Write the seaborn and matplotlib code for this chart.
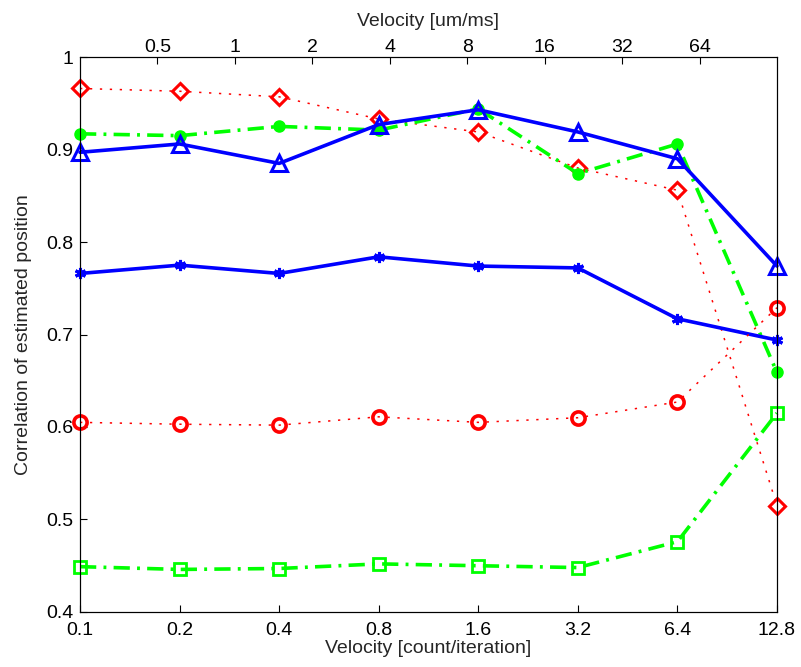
import matplotlib
matplotlib.use("Agg")
import matplotlib.pyplot as plt
import seaborn as sns
import pandas as pd

# ---- data ----
velocity_count = [0.1, 0.2, 0.4, 0.8, 1.6, 3.2, 6.4, 12.8]
top_ticks = [0.5, 1, 2, 4, 8, 16, 32, 64]
top_tick_labels = ["0.5", "1", "2", "4", "8", "16", "32", "64"]
bottom_tick_labels = ["0.1", "0.2", "0.4", "0.8", "1.6", "3.2", "6.4", "12.8"]
y_ticks = [0.4, 0.5, 0.6, 0.7, 0.8, 0.9, 1.0]
y_tick_labels = ["0.4", "0.5", "0.6", "0.7", "0.8", "0.9", "1"]

red_diamond = [0.966, 0.963, 0.957, 0.933, 0.919, 0.880, 0.856, 0.515]
green_circle = [0.917, 0.915, 0.925, 0.921, 0.944, 0.874, 0.906, 0.659]
blue_triangle = [0.897, 0.906, 0.885, 0.927, 0.943, 0.919, 0.890, 0.774]
blue_star = [0.766, 0.775, 0.766, 0.784, 0.774, 0.772, 0.717, 0.694]
red_circle = [0.605, 0.603, 0.602, 0.611, 0.605, 0.610, 0.627, 0.729]
green_square = [0.449, 0.446, 0.447, 0.452, 0.450, 0.448, 0.476, 0.615]

RED = (1.0, 0.0, 0.0)
GREEN = (0.0, 1.0, 0.0)
BLUE = (0.0, 0.0, 1.0)

sns.set_style("white")
plt.rcParams["font.family"] = ["Liberation Sans", "DejaVu Sans"]

FS = 14

fig = plt.figure(figsize=(8.01, 6.67), dpi=100)
ax = fig.add_axes([0.0999, 0.0825, 0.8701, 0.832])

dotted = (0, (1.5, 5.0))
dashdot = (0, (4.5, 2.0, 0.8, 2.0))

series = [
    (red_diamond, RED, dotted, 1.1, "D", 8.5, 2.2, "none"),
    (green_circle, GREEN, dashdot, 2.6, "o", 8, 1.0, GREEN),
    (blue_triangle, BLUE, "-", 2.6, "^", 12, 2.2, "none"),
    (blue_star, BLUE, "-", 2.6, (6, 2, 0), 8, 2.2, BLUE),
    (red_circle, RED, dotted, 1.1, "o", 9.5, 2.6, "none"),
    (green_square, GREEN, dashdot, 2.6, "s", 8.5, 2.0, "none"),
]

for vals, col, ls, lw, mk, ms, mew, mfc in series:
    df = pd.DataFrame({"v": velocity_count, "c": vals})
    sns.lineplot(data=df, x="v", y="c", ax=ax, color=col, linestyle=ls,
                 linewidth=lw, marker=mk, markersize=ms, markeredgewidth=mew,
                 markerfacecolor=mfc, markeredgecolor=col, clip_on=False,
                 zorder=3)

ax.set_xscale("log", base=2)
ax.set_xlim(0.1, 12.8)
ax.set_ylim(0.4, 1.0)
ax.set_xticks(velocity_count)
ax.set_xticklabels(bottom_tick_labels)
ax.minorticks_off()
ax.set_yticks(y_ticks)
ax.set_yticklabels(y_tick_labels)
ax.tick_params(axis="both", direction="in", length=5, width=0.8,
               labelsize=FS, colors="black")
ax.tick_params(axis="y", right=False, left=True, pad=5)
ax.tick_params(axis="x", top=False, bottom=True, pad=7)
ax.set_xlabel("Velocity [count/iteration]", fontsize=FS, labelpad=1)
ax.set_ylabel("Correlation of estimated position", fontsize=FS, labelpad=10)
for s in ax.spines.values():
    s.set_color("black")
    s.set_linewidth(0.8)

ax2 = ax.twiny()
ax2.set_xscale("log", base=2)
ax2.set_xlim(0.25, 128)
ax2.set_xticks(top_ticks)
ax2.set_xticklabels(top_tick_labels)
ax2.minorticks_off()
ax2.tick_params(axis="x", direction="in", length=5, width=0.8,
                labelsize=FS, colors="black", pad=1)
ax2.set_xlabel("Velocity [um/ms]", fontsize=FS, labelpad=9)
for s in ax2.spines.values():
    s.set_color("black")
    s.set_linewidth(0.8)

fig.savefig("out.png", dpi=100)
